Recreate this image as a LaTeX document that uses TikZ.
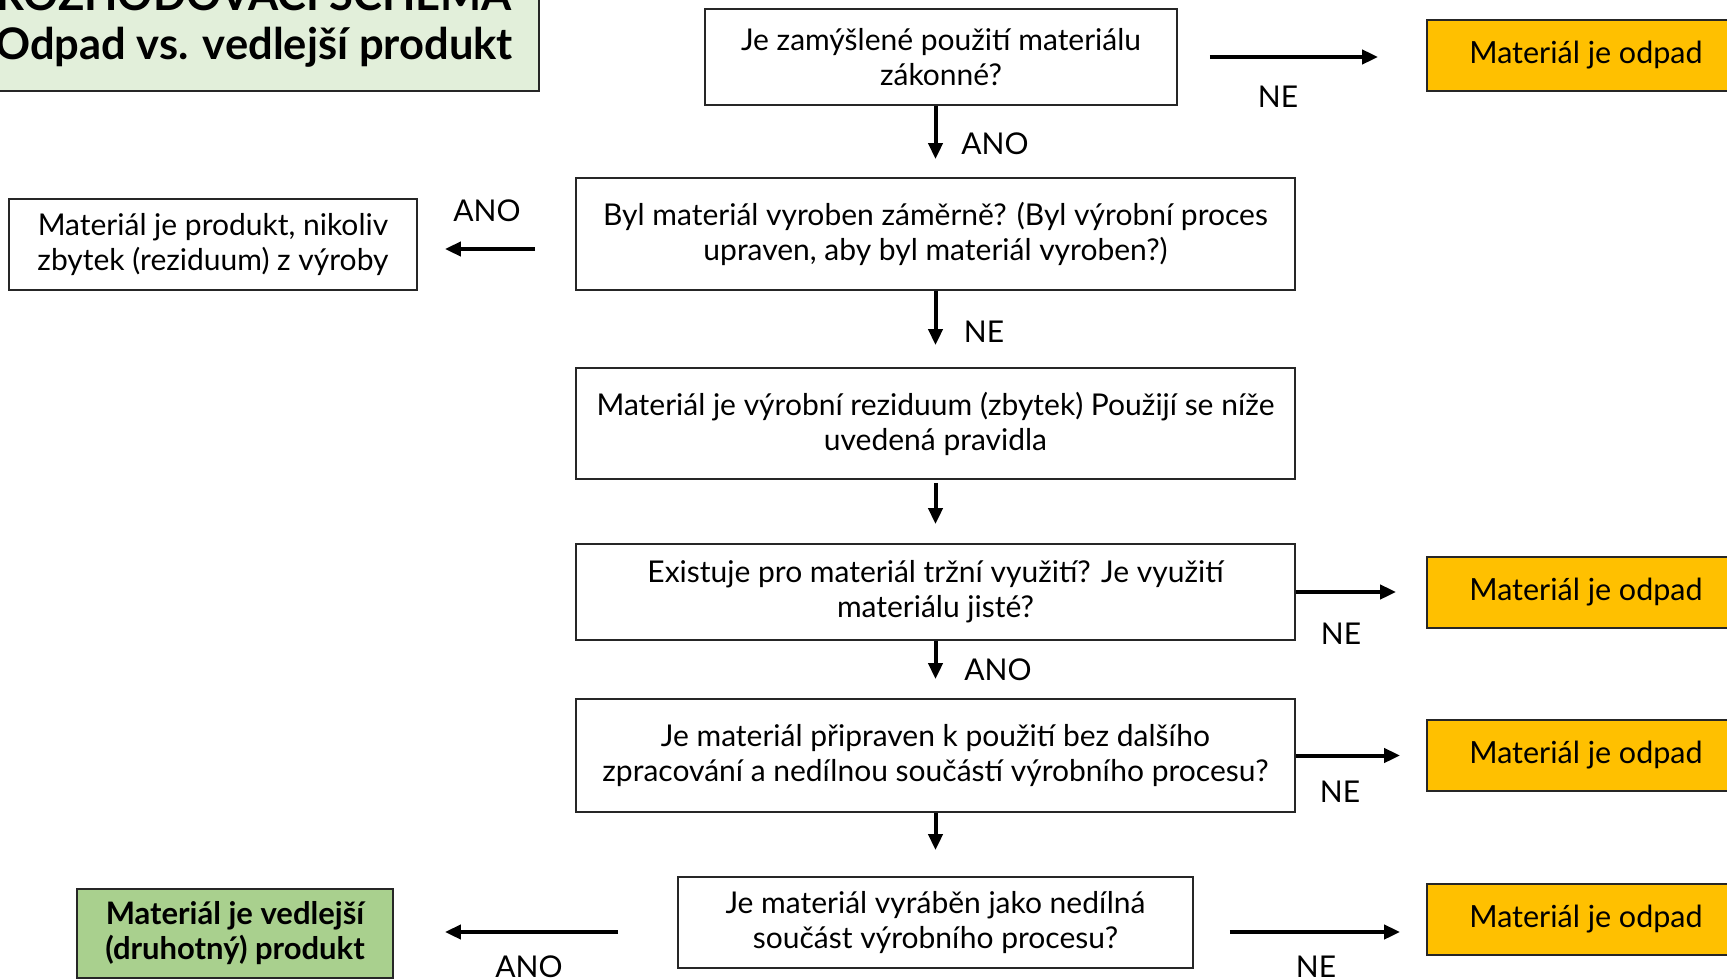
\documentclass[tikz,border=0pt]{standalone}
\usepackage{fontspec}
\setmainfont{Lato}
\usetikzlibrary{arrows.meta}
\definecolor{odpad}{HTML}{FFC000}
\definecolor{vedl}{HTML}{A9D08E}
\definecolor{titlebg}{HTML}{E2EFDA}
\tikzset{
  box/.style={draw=black!85, line width=1.8pt, align=center, inner sep=0pt,
    font=\fontsize{30}{35}\selectfont},
  odpadbox/.style={box, fill=odpad, minimum width=318pt, minimum height=71pt,
    font=\fontsize{30.5}{35}\selectfont},
  lbl/.style={font=\fontsize{30}{32}\selectfont, inner sep=0pt},
  arr/.style={line width=4pt, -{Triangle[length=16pt,width=14pt]}},
}
\begin{document}
\begin{tikzpicture}[x=1pt,y=-1pt]
\useasboundingbox (0,0) rectangle (1727,979);
\begin{scope}
\clip (0,0) rectangle (1727,979);
% title
\node[box, fill=titlebg, minimum width=570pt, minimum height=145pt,
  font=\fontsize{43.5}{49}\selectfont\bfseries] (title) at (254,18.5)
  {ROZHODOVACÍ SCHÉMA\\Odpad vs. vedlejší produkt};
% main column
\node[box, minimum width=472pt, minimum height=96pt] (b1) at (941,57)
  {Je zamýšlené použití materiálu\\zákonné?};
\node[box, minimum width=719pt, minimum height=112pt] (b2) at (935.5,234)
  {Byl materiál vyroben záměrně? (Byl výrobní proces\\upraven, aby byl materiál vyroben?)};
\node[box, minimum width=719pt, minimum height=111pt] (b3) at (935.5,423.5)
  {Materiál je výrobní reziduum (zbytek) Použijí se níže\\uvedená pravidla};
\node[box, minimum width=719pt, minimum height=96pt] (b4) at (935.5,592)
  {Existuje pro materiál tržní využití? Je využití\\materiálu jisté?};
\node[box, minimum width=719pt, minimum height=113pt] (b5) at (935.5,755.5)
  {Je materiál připraven k použití bez dalšího\\zpracování a nedílnou součástí výrobního procesu?};
\node[box, minimum width=515pt, minimum height=91pt] (b6) at (935.5,922.5)
  {Je materiál vyráběn jako nedílná\\součást výrobního procesu?};
% side boxes
\node[box, minimum width=408pt, minimum height=91pt] (prod) at (213,244.5)
  {Materiál je produkt, nikoliv\\zbytek (reziduum) z výroby};
\node[box, fill=vedl, minimum width=316pt, minimum height=89pt,
  font=\fontsize{31}{35}\selectfont\bfseries] (ved) at (235,933.5)
  {Materiál je vedlejší\\(druhotný) produkt};
\node[odpadbox] (o1) at (1586,55.5) {Materiál je odpad};
\node[odpadbox] (o2) at (1586,592.5) {Materiál je odpad};
\node[odpadbox] (o3) at (1586,755.5) {Materiál je odpad};
\node[odpadbox] (o4) at (1586,919.5) {Materiál je odpad};
\end{scope}
% connectors
\draw[arr, shorten >=18pt] (b1.south -| b2.north) -- (b2.north);
\draw[arr, shorten >=22pt] (b2.south) -- (b3.north);
\draw[arr, shorten <=3pt, shorten >=19pt] (b3.south) -- (b4.north);
\draw[arr, shorten >=19pt] (b4.south) -- (b5.north);
\draw[arr, shorten >=26pt] (b5.south) -- (b6.north);
\draw[arr, shorten <=32pt, shorten >=48pt] (b1.east) -- (b1.east -| o1.west);
\draw[arr, shorten >=30pt] (b4.east) -- (b4.east -| o2.west);
\draw[arr, shorten >=26pt] (b5.east) -- (b5.east -| o3.west);
\draw[arr, shorten <=36pt, shorten >=26pt] ([yshift=-9.5pt]b6.east) -- ([yshift=-9.5pt]b6.east -| o4.west);
\draw[arr, shorten <=40pt, shorten >=27pt] ([yshift=-15pt]b2.west) -- ([yshift=-15pt]b2.west -| prod.east);
\draw[arr, shorten <=59pt, shorten >=51pt] ([yshift=-9.5pt]b6.west) -- ([yshift=-9.5pt]b6.west -| ved.east);
% labels
\node[lbl] (l1) at (995,144) {ANO};
\node[lbl] (l2) at (1278,97) {NE};
\node[lbl] (l3) at (487,211) {ANO};
\node[lbl] (l4) at (984,332) {NE};
\node[lbl] (l5) at (1341,634) {NE};
\node[lbl] (l6) at (998,670) {ANO};
\node[lbl] (l7) at (1340,792) {NE};
\node[lbl] (l8) at (1316,967) {NE};
\node[lbl] (l9) at (529,967) {ANO};
\end{tikzpicture}
\end{document}
